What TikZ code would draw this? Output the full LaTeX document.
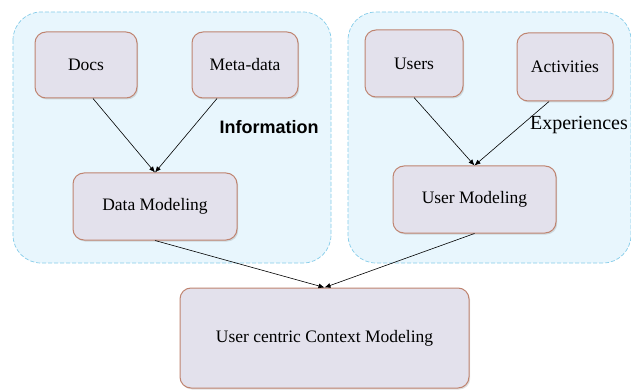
\documentclass[tikz,border=0pt]{standalone}
\usepackage{fontspec}
\setmainfont{Liberation Serif}
\setsansfont{Liberation Sans}
\usetikzlibrary{arrows.meta,shadows,calc}
\definecolor{contfill}{HTML}{E8F6FD}
\definecolor{contline}{HTML}{86CDEA}
\definecolor{boxfill}{HTML}{E3E1EC}
\definecolor{boxline}{HTML}{BF8470}
\begin{document}
\begin{tikzpicture}[x=1pt,y=-1pt,
  container/.style={draw=contline,fill=contfill,dash pattern=on 4pt off 2pt,line width=0.7pt,rounded corners=28pt},
  entity/.style={draw=boxline,fill=boxfill,line width=1pt,rounded corners=11pt,
     drop shadow={shadow xshift=1.2pt,shadow yshift=-1.5pt,opacity=0.25},
     inner sep=0pt,font=\fontsize{17.5}{20}\selectfont},
  link/.style={-{Latex[length=6pt,width=5pt]},line width=0.6pt,black}]
\useasboundingbox (0,0) rectangle (631,390);
\fill[white] (0,0) rectangle (631,390);
\path[container] (13,12) rectangle (331,263);
\path[container] (348,12) rectangle (631,263);
\node[entity,minimum width=102pt,minimum height=66pt] (docs) at (86,65) {Docs};
\node[entity,minimum width=106pt,minimum height=66pt] (meta) at (245,65) {Meta-data};
\node[entity,minimum width=164pt,minimum height=67pt] (datam) at (155,206.5) {Data Modeling};
\node[entity,minimum width=98pt,minimum height=67pt] (users) at (414,63.5) {Users};
\node[entity,minimum width=96pt,minimum height=68pt] (acts) at (565,67) {Activities};
\node[entity,minimum width=163pt,minimum height=67pt] (userm) at (474.5,199.5) {User Modeling};
\node[entity,minimum width=289pt,minimum height=100pt] (ucm) at (324.5,338) {User centric Context Modeling};
\node[font=\sffamily\bfseries\fontsize{18}{20}\selectfont] (info) at (269,127) {Information};
\node[font=\fontsize{20}{22}\selectfont,inner sep=0pt] (exp) at (579,125) {Experiences};
\draw[link] ([xshift=7pt]docs.south) -- (datam.north);
\draw[link] ([xshift=-28pt]meta.south) -- (datam.north);
\draw[link] (users.south) -- (userm.north);
\draw[link] ([xshift=-16pt]acts.south) -- (userm.north);
\draw[link] (datam.south) -- (ucm.north);
\draw[link] (userm.south) -- (ucm.north);
\end{tikzpicture}
\end{document}
